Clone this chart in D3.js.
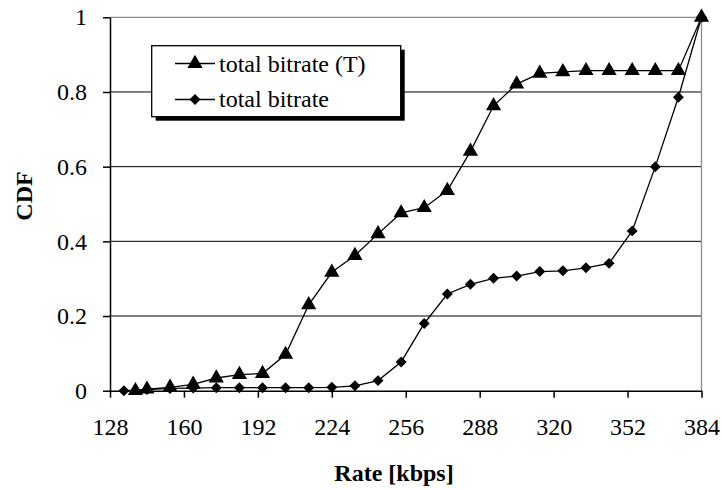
<!DOCTYPE html>
<html>
<head>
<meta charset="utf-8">
<script src="https://cdn.jsdelivr.net/npm/d3@7"></script>
<style>
  html, body { margin: 0; padding: 0; background: #fff; }
  svg { display: block; }
</style>
</head>
<body>
<svg id="chart" width="722" height="490"></svg>
<script>
// Rate samples (kbps) and cumulative fractions for each series
const rateT = [139, 144, 154, 164, 174, 184, 194, 204, 214, 224, 234, 244, 254,
               264, 274, 284, 294, 304, 314, 324, 334, 344, 354, 364, 374, 384];
const cdfT  = [0, 0.004, 0.009, 0.017, 0.034, 0.043, 0.046, 0.097, 0.23, 0.317, 0.362, 0.42, 0.476,
               0.49, 0.536, 0.641, 0.763, 0.821, 0.85, 0.854, 0.857, 0.857, 0.857, 0.857, 0.857, 1];

const rate = [134, 144, 154, 164, 174, 184, 194, 204, 214, 224, 234, 244, 254,
              264, 274, 284, 294, 304, 314, 324, 334, 344, 354, 364, 374, 384];
const cdf  = [0, 0.003, 0.006, 0.007, 0.008, 0.008, 0.008, 0.008, 0.008, 0.009, 0.013, 0.027, 0.077,
              0.18, 0.259, 0.285, 0.301, 0.307, 0.319, 0.321, 0.329, 0.341, 0.428, 0.6, 0.786, 1];

const xTicks = [128, 160, 192, 224, 256, 288, 320, 352, 384];
const yTicks = [0, 0.2, 0.4, 0.6, 0.8, 1];
const seriesNames = ["total bitrate (T)", "total bitrate"];

const FONT = "'Liberation Serif', 'DejaVu Serif', serif";

const svg = d3.select("#chart");
const plotL = 110, plotR = 701.5, plotT = 17.3, plotB = 390.7;

const x = d3.scaleLinear().domain([128, 384]).range([plotL, plotR]);
const y = d3.scaleLinear().domain([0, 1]).range([plotB, plotT]);

// horizontal gridlines
svg.append("g").selectAll("line")
  .data(yTicks.filter(v => v > 0))
  .join("line")
  .attr("x1", plotL).attr("x2", plotR)
  .attr("y1", d => y(d)).attr("y2", d => y(d))
  .attr("stroke", d => d === 1 ? "#8c8c8c" : "#000")
  .attr("stroke-width", d => d === 1 ? 1.3 : 1);

// right border of the plot area
svg.append("line")
  .attr("x1", plotR).attr("x2", plotR)
  .attr("y1", plotT).attr("y2", plotB)
  .attr("stroke", "#8c8c8c").attr("stroke-width", 1.3);

// axes
const fmt = d => d === 0 ? "0" : d === 1 ? "1" : d3.format(".1f")(d);
const yAxis = svg.append("g")
  .attr("transform", `translate(${plotL},0)`)
  .call(d3.axisLeft(y).tickValues(yTicks).tickFormat(fmt).tickSize(7).tickSizeOuter(0).tickPadding(16));
const xAxis = svg.append("g")
  .attr("transform", `translate(0,${plotB})`)
  .call(d3.axisBottom(x).tickValues(xTicks).tickFormat(d3.format("d")).tickSize(7).tickSizeOuter(0).tickPadding(20));

[yAxis, xAxis].forEach(g => {
  g.attr("font-family", FONT).attr("font-size", 24);
  g.select(".domain").attr("stroke", "#000").attr("stroke-width", 1.5);
  g.selectAll(".tick line").attr("stroke", "#000").attr("stroke-width", 1.5);
  g.selectAll(".tick text").style("font-family", FONT).style("font-size", "24px").attr("fill", "#000");
});

// axis titles
svg.append("text")
  .attr("x", 394).attr("y", 481)
  .attr("text-anchor", "middle")
  .style("font-family", FONT).style("font-size", "24px").style("font-weight", "bold")
  .text("Rate [kbps]");
svg.append("text")
  .attr("transform", "translate(32,196) rotate(-90)")
  .attr("text-anchor", "middle")
  .style("font-family", FONT).style("font-size", "24px").style("font-weight", "bold")
  .text("CDF");

// markers
const triPath = d3.symbol().type(d3.symbolTriangle).size(100)();
const diaPath = d3.symbol().type(d3.symbolSquare).size(60)();

const line = d3.line().x(d => x(d[0])).y(d => y(d[1]));
const dataT = rateT.map((r, i) => [r, cdfT[i]]);
const dataD = rate.map((r, i) => [r, cdf[i]]);

svg.append("path").datum(dataD).attr("d", line)
  .attr("fill", "none").attr("stroke", "#000").attr("stroke-width", 1.3);
svg.append("path").datum(dataT).attr("d", line)
  .attr("fill", "none").attr("stroke", "#000").attr("stroke-width", 1.3);

svg.append("g").selectAll("path").data(dataD).join("path")
  .attr("d", diaPath)
  .attr("transform", d => `translate(${x(d[0])},${y(d[1])}) rotate(45)`)
  .attr("fill", "#000");
svg.append("g").selectAll("path").data(dataT).join("path")
  .attr("d", triPath)
  .attr("transform", d => `translate(${x(d[0])},${y(d[1])})`)
  .attr("fill", "#000");

// legend with drop shadow
const lg = svg.append("g");
const lx = 151.7, ly = 45.7, lw = 249, lh = 71;
lg.append("rect").attr("x", lx + 4).attr("y", ly + 4).attr("width", lw).attr("height", lh).attr("fill", "#000");
lg.append("rect").attr("x", lx).attr("y", ly).attr("width", lw).attr("height", lh)
  .attr("fill", "#fff").attr("stroke", "#000").attr("stroke-width", 1.3);

const rows = [
  { name: seriesNames[0], sym: triPath, rot: 0, cy: 63.5, base: 72 },
  { name: seriesNames[1], sym: diaPath, rot: 45, cy: 99.5, base: 107 }
];
rows.forEach(r => {
  lg.append("line").attr("x1", 175).attr("x2", 215).attr("y1", r.cy).attr("y2", r.cy)
    .attr("stroke", "#000").attr("stroke-width", 1.3);
  lg.append("path").attr("d", r.sym)
    .attr("transform", `translate(195,${r.cy}) rotate(${r.rot})`).attr("fill", "#000");
  lg.append("text").attr("x", 219).attr("y", r.base)
    .style("font-family", FONT).style("font-size", "24px").text(r.name);
});
</script>
</body>
</html>
